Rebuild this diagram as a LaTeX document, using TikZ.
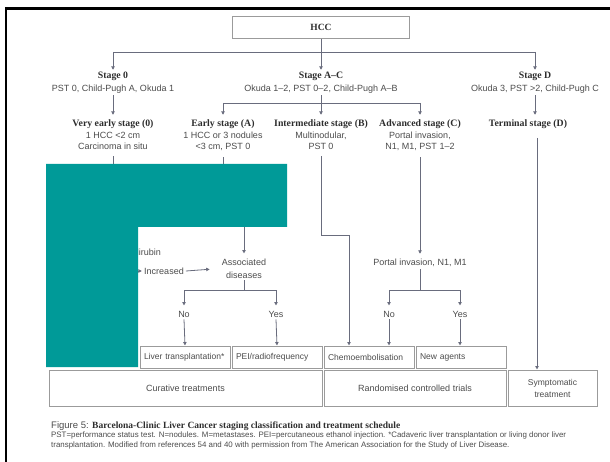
\documentclass[tikz,border=0pt]{standalone}
\usepackage{fontspec}
\setmainfont{Liberation Sans}
\newfontfamily\headfont{Liberation Serif}
\usetikzlibrary{arrows.meta, positioning, calc}

\definecolor{tealblock}{RGB}{0,154,152}
\definecolor{txtgray}{RGB}{75,75,75}
\definecolor{headgray}{RGB}{45,45,45}
\definecolor{linkgray}{RGB}{105,108,125}
\definecolor{boxgray}{RGB}{155,155,155}

\newcommand{\hd}[1]{{\headfont\bfseries\color{headgray}#1}}

\begin{document}
\begin{tikzpicture}[
    x=1pt, y=-1pt,
    >={Latex[length=3.6pt,width=4pt]},
    txt/.style={align=center, inner sep=2pt, text=txtgray, font=\fontsize{9}{11.5}\selectfont},
    stagetxt/.style={txt, font=\fontsize{9}{12.5}\selectfont},
    pair/.style={txt, font=\fontsize{9}{12.7}\selectfont},
    headsize/.style={font=\fontsize{9.8}{11.5}\selectfont},
    tbox/.style={rectangle, draw=boxgray, line width=0.7pt, minimum width=90pt, minimum height=22pt, text width=82pt, align=left, inner xsep=4pt, text=txtgray, font=\fontsize{8.5}{10}\selectfont},
    groupbox/.style={rectangle, draw=boxgray, line width=0.7pt, minimum height=36pt, align=center, text=txtgray, font=\fontsize{9}{12}\selectfont},
    conn/.style={draw=linkgray, line width=0.8pt},
    arrow/.style={conn, ->, shorten >=3pt},
    barearrow/.style={conn, ->},
    fromtxt/.style={shorten <=4pt}
]
\useasboundingbox (0,0) rectangle (610,462);

% frame
\draw[line width=2.5pt] (6,470) -- (6,8.5) -- (620,8.5);

% ---- top: HCC and stages ----
\node[rectangle, draw=boxgray, line width=0.7pt, minimum width=177pt, minimum height=22pt, font=\fontsize{9.5}{11}\selectfont] (hcc) at (321,27.5) {\hd{HCC}};
\coordinate (bus1) at (321,52);

\node[stagetxt, anchor=north] (stage0) at (113,70) {{\fontsize{9.8}{12.5}\selectfont\hd{Stage 0}}\\PST 0, Child-Pugh A, Okuda 1};
\node[stagetxt, anchor=north] (stageAC) at (321,70) {{\fontsize{9.8}{12.5}\selectfont\hd{Stage A–C}}\\Okuda 1–2, PST 0–2, Child-Pugh A–B};
\node[stagetxt, anchor=north] (stageD) at (535,70) {{\fontsize{9.8}{12.5}\selectfont\hd{Stage D}}\\Okuda 3, PST >2, Child-Pugh C};
\coordinate (bus2) at (321,103);

% ---- row of stage descriptions ----
\node[txt, anchor=north] (vearly) at (113,118) {{\fontsize{9.8}{11.5}\selectfont\hd{Very early stage (0)}}\\1 HCC <2 cm\\Carcinoma in situ};
\node[txt, anchor=north] (early) at (223,118) {{\fontsize{9.8}{11.5}\selectfont\hd{Early stage (A)}}\\1 HCC or 3 nodules\\<3 cm, PST 0};
\node[txt, anchor=north] (inter) at (321,118) {{\fontsize{9.8}{11.5}\selectfont\hd{Intermediate stage (B)}}\\Multinodular,\\PST 0};
\node[txt, anchor=north] (adv) at (420,118) {{\fontsize{9.8}{11.5}\selectfont\hd{Advanced stage (C)}}\\Portal invasion,\\N1, M1, PST 1–2};
\node[txt, anchor=north, headsize] (term) at (528,118) {\hd{Terminal stage (D)}};
\coordinate (termtop) at (537,138);

% ---- middle ----
\node[txt, anchor=east] (bili) at (163,252) {Bilirubin};
\node[txt] (incr) at (164,271) {Increased};
\node[pair] (assoc) at (244,268.5) {Associated\\diseases};
\node[txt] (portal) at (420,263) {Portal invasion, N1, M1};
\coordinate (hidA) at (113,210);
\coordinate (hidB) at (244,200);
\coordinate (hidC) at (120,271);
\coordinate (interbend) at (349,235);
\coordinate (bus3) at (244,290);
\coordinate (bus4) at (420,290);

\node[txt] (no1) at (184,314) {No};
\node[txt] (yes1) at (276,314) {Yes};
\node[txt] (no2) at (389,314) {No};
\node[txt] (yes2) at (460,314) {Yes};

% ---- treatments ----
\node[tbox] (liver) at (185,357) {Liver transplantation*};
\node[tbox] (pei) at (277,357) {PEI/radiofrequency};
\node[tbox] (chemo) at (369,357) {Chemoembolisation};
\node[tbox] (newag) at (461,357) {New agents};

\node[groupbox, minimum width=273pt] (cur) at (185.5,388) {Curative treatments};
\node[groupbox, minimum width=182pt] (rct) at (415,388) {Randomised controlled trials};
\node[groupbox, minimum width=89pt, font=\fontsize{8.5}{12}\selectfont] (symp) at (552.5,388) {Symptomatic\\treatment};

% ---- caption ----
\node[anchor=base west, inner sep=0pt, text=txtgray, font=\fontsize{9.5}{11}\selectfont] (caption) at (51,428) {Figure 5: \hd{Barcelona-Clinic Liver Cancer staging classification and treatment schedule}};
\node[anchor=north west, inner sep=0pt, align=left, text=txtgray, font=\fontsize{7.9}{10}\selectfont] (notes) at (51,432) {PST=performance status test. N=nodules. M=metastases. PEI=percutaneous ethanol injection. *Cadaveric liver transplantation or living donor liver\\transplantation. Modified from references 54 and 40 with permission from The American Association for the Study of Liver Disease.};

% ---- connections: top ----
\draw[conn] (hcc.south) -- (bus1);
\draw[conn] (stage0 |- bus1) -- (stageD |- bus1);
\foreach \s in {stage0, stageAC, stageD}
    \draw[barearrow] (\s |- bus1) -- (\s.north);

\draw[conn] (stageAC.south) -- (bus2);
\draw[conn] (early |- bus2) -- (adv |- bus2);
\foreach \s in {early, inter, adv}
    \draw[arrow] (\s |- bus2) -- (\s.north);
\draw[arrow] (stage0) -- (vearly);
\draw[arrow] (stageD) -- (stageD |- term.north);

% ---- connections: middle ----
\draw[conn, fromtxt] (vearly.south) -- (hidA);
\draw[arrow, fromtxt] (early.south) |- (hidB) -- (assoc.north);
\draw[barearrow] (hidC) -- (incr.west);
\draw[arrow, shorten >=10pt] (incr.east) -- (assoc.west);
\draw[conn] (assoc.south) -- (bus3);
\draw[conn] (no1 |- bus3) -- (yes1 |- bus3);
\draw[arrow] (no1 |- bus3) -- (no1.north);
\draw[arrow] (yes1 |- bus3) -- (yes1.north);

\draw[arrow, fromtxt] (adv.south) -- (portal.north);
\draw[conn] (portal.south) -- (bus4);
\draw[conn] (no2 |- bus4) -- (yes2 |- bus4);
\draw[arrow] (no2 |- bus4) -- (no2.north);
\draw[arrow] (yes2 |- bus4) -- (yes2.north);

\draw[barearrow, fromtxt] (inter.south) |- (interbend) -- (interbend |- chemo.north);
\draw[barearrow] (termtop) -- (termtop |- symp.north);

% ---- connections: bottom ----
\draw[barearrow] (no1.south) -- (liver.north);
\draw[barearrow] (yes1.south) -- (pei.north);
\draw[barearrow] (no2.south) -- (no2 |- chemo.north);
\draw[barearrow] (yes2.south) -- (yes2 |- newag.north);

% overlay block
\fill[tealblock] (46,164) -- (287,164) -- (287,227) -- (138,227) -- (138,367) -- (46,367) -- cycle;
\end{tikzpicture}
\end{document}
